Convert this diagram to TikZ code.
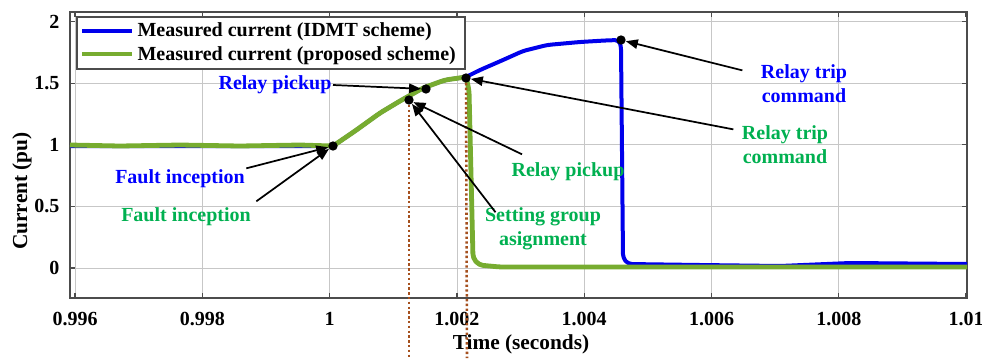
\documentclass[tikz,border=0pt]{standalone}
\usepackage{fontspec}
\setmainfont{Liberation Serif}
\usetikzlibrary{arrows.meta}
\definecolor{idmtblue}{RGB}{0,0,235}
\definecolor{propgreen}{RGB}{119,172,48}
\definecolor{labgreen}{RGB}{0,176,80}
\definecolor{dropbrown}{RGB}{165,80,30}
\tikzset{
  gridline/.style={black!22, line width=0.6pt},
  frameline/.style={black!70, line width=1pt},
  idmt/.style={idmtblue, line width=3pt, line join=round},
  prop/.style={propgreen, line width=3.6pt, line join=round},
  dropline/.style={dropbrown, line width=1.9pt, dash pattern=on 1.8pt off 1.8pt},
  dotmark/.style={circle, fill=black, inner sep=0pt, minimum size=7pt},
  callout/.style={black, line width=1.3pt, -{Triangle[length=9pt,width=7pt]}},
  bluelab/.style={text=blue, align=center, inner sep=1pt},
  greenlab/.style={text=labgreen, align=center, inner sep=1pt},
}
\begin{document}
\begin{tikzpicture}[x=0.75pt,y=-0.75pt,font=\fontsize{15}{18}\selectfont\bfseries]
    \useasboundingbox (0,0) rectangle (982,358);
    % grid
    \foreach \k in {0,...,7}
        \draw[gridline] ({75+127.3*\k},12) -- ({75+127.3*\k},298);
    \foreach \k in {0,...,4}
        \draw[gridline] (70,{268-61.6*\k}) -- (967,{268-61.6*\k});
    % axes box, ticks and tick labels
    \draw[frameline] (70,12) rectangle (967,298);
    \foreach \lab [count=\k from 0] in {0.996,0.998,1,1.002,1.004,1.006,1.008,1.01} {
        \pgfmathsetmacro{\gx}{75+127.3*\k}
        \draw[frameline] (\gx,298) -- (\gx,293) (\gx,12) -- (\gx,17);
        \node (xt\k) at (\gx,319) {\lab};
      }
    \foreach \lab [count=\k from 0] in {0,0.5,1,1.5,2} {
        \pgfmathsetmacro{\gy}{268-61.6*\k}
        \draw[frameline] (70,\gy) -- (75,\gy) (967,\gy) -- (962,\gy);
        \node[anchor=east] (yt\k) at (64,\gy) {\lab};
      }
    \node (xlabel) at (521,344) {\fontsize{16}{18}\selectfont Time (seconds)};
    \node[rotate=90] (ylabel) at (22,191) {\fontsize{16}{18}\selectfont Current (pu)};
    % measured currents
    \draw[idmt, rounded corners=3pt] (70,146) -- (333,146) -- (355,131) -- (380,113)
        -- (400,101) -- (423,88) -- (445,80) -- (466,77) -- (480,70) -- (503,60)
        -- (523,51) -- (547,45) -- (580,42) -- (605,40.5) -- (619,40) -- (621,46)
        -- (623,258) -- (628,264) -- (700,265) -- (780,266) -- (850,263) -- (967,264);
    \draw[prop, rounded corners=3pt] (70,145) -- (120,146) -- (180,145) -- (240,146)
        -- (300,145) -- (333,146) -- (355,131) -- (380,113) -- (400,101) -- (423,88)
        -- (445,80) -- (466,77) -- (469,90) -- (473,258) -- (479,265) -- (500,267)
        -- (967,267);
    % event markers
    \node[dotmark] (dFault) at (333,146) {};
    \node[dotmark] (dPickG) at (409,100) {};
    \node[dotmark] (dPickB) at (426,89) {};
    \node[dotmark] (dTripG) at (466,78) {};
    \node[dotmark] (dTripB) at (621,40) {};
    \coordinate (dropA) at (409,358);
    \coordinate (dropB) at (467,358);
    \draw[dropline] (dPickG) -- (dropA);
    \draw[dropline] (dTripG) -- (dropB);
    % labels
    \node[bluelab] (lFaultB) at (180,179) {Fault inception};
    \node[greenlab] (lFaultG) at (186,217) {Fault inception};
    \node[bluelab] (lPickB) at (275,85) {Relay pickup};
    \node[greenlab] (lPickG) at (568,172) {Relay pickup};
    \node[greenlab] (lGroup) at (543,229) {Setting group\\asignment};
    \node[greenlab] (lTripG) at (785,145) {Relay trip\\command};
    \node[bluelab] (lTripB) at (804,84) {Relay trip\\command};
    \draw[callout] (lFaultB.north east) -- (dFault);
    \draw[callout] ([shift={(4,-5)}]lFaultG.north east) -- (dFault);
    \draw[callout] (lPickB.east) -- (dPickB);
    \draw[callout] ([shift={(12,-7)}]lPickG.north west) -- (dPickG);
    \draw[callout] ([shift={(12,6)}]lGroup.north west) -- (dPickG);
    \draw[callout] ([shift={(-7,5)}]lTripG.north west) -- (dTripG);
    \draw[callout] ([shift={(-17,7)}]lTripB.north west) -- (dTripB);
    % legend
    \draw[frameline, fill=white] (77,17) rectangle (465,69);
    \draw[idmt] (82,31) -- (132,31);
    \draw[prop] (82,54) -- (132,54);
    \node[anchor=west, inner sep=1pt] (legA) at (136,32) {Measured current (IDMT scheme)};
    \node[anchor=west, inner sep=1pt] (legB) at (136,56) {Measured current (proposed scheme)};
\end{tikzpicture}
\end{document}
